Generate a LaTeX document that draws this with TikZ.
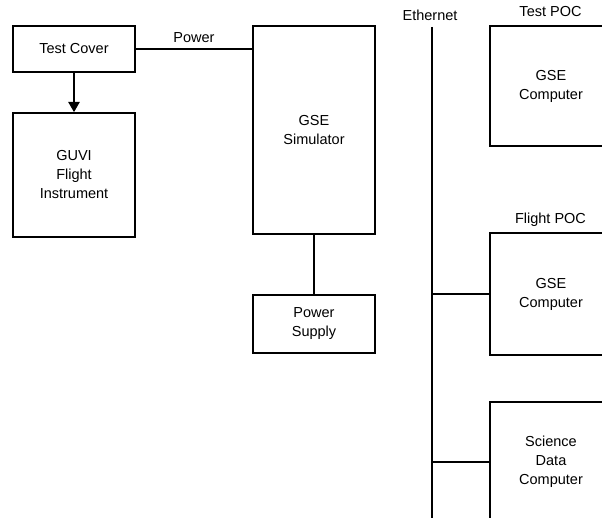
\documentclass[tikz,border=0pt]{standalone}
\usepackage{fontspec}
\setmainfont{Liberation Sans}
\usetikzlibrary{arrows,calc}

\tikzset{
  blk/.style={draw,line width=1.8pt,align=center,inner sep=0pt,
    font=\fontsize{14.5}{19}\selectfont},
  lbl/.style={font=\fontsize{14.5}{19}\selectfont,inner sep=0pt},
  wire/.style={line width=1.8pt}
}

\begin{document}
\begin{tikzpicture}[x=1pt,y=-1pt,>=triangle 60]

\useasboundingbox (0,0) rectangle (602,518);
\clip (0,0) rectangle (602,518);

\node[blk,minimum width=122pt,minimum height=46pt] (cover) at (74,49) {Test Cover};
\node[blk,minimum width=122pt,minimum height=124pt] (guvi) at (74,175) {GUVI\\Flight\\Instrument};
\node[blk,minimum width=122pt,minimum height=208pt] (sim) at (314,130) {GSE\\Simulator};
\node[blk,minimum width=122pt,minimum height=58pt] (supply) at (314,324) {Power\\Supply};

\node[blk,minimum width=122pt,minimum height=120pt] (testpoc) at (551,86) {GSE\\Computer};
\node[blk,minimum width=122pt,minimum height=122pt] (flightpoc) at (551,294) {GSE\\Computer};
\node[blk,minimum width=122pt,minimum height=120pt] (science) at (551,462) {Science\\Data\\Computer};

\node[lbl] (testlbl) at (550.5,12) {Test POC};
\node[lbl] (flightlbl) at (550.5,220) {Flight POC};
\node[lbl] (ethlbl) at (430,15) {Ethernet};

\coordinate (bustop) at (432,27);
\coordinate (busbot) at (432,530);

\draw[wire,->] (cover.south) -- (guvi.north);
\draw[wire] (cover.east) -- node[lbl,above=5pt] (powerlbl) {Power} (cover.east -| sim.west);
\draw[wire] (sim.south) -- (supply.north);

\draw[wire] (bustop) -- (busbot);
\draw[wire] (flightpoc.west -| bustop) -- (flightpoc.west);
\draw[wire] (science.west -| bustop) -- (science.west);

\end{tikzpicture}
\end{document}
